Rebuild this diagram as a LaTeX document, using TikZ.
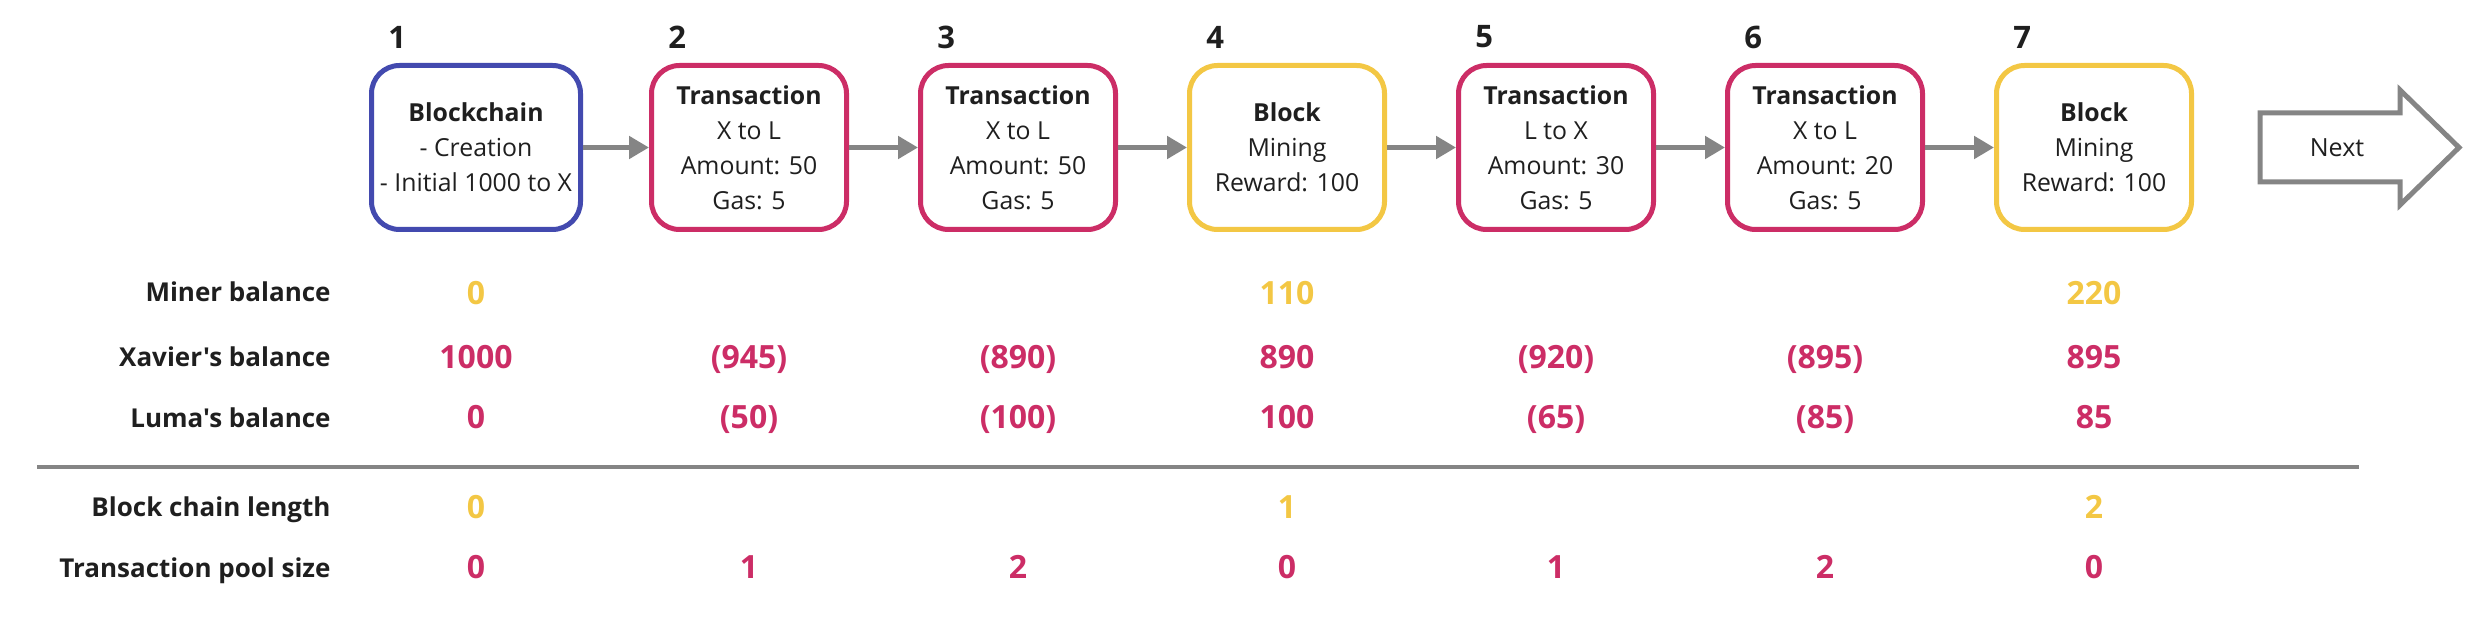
\documentclass[tikz,border=0pt]{standalone}
\usepackage{fontspec}
\setmainfont{Open Sans}[Ligatures=TeXOff]
\usetikzlibrary{arrows.meta}

\definecolor{chainblue}{HTML}{434AAF}
\definecolor{txpink}{HTML}{CC2D66}
\definecolor{blockyellow}{HTML}{F3C744}
\definecolor{linkgray}{HTML}{858585}
\definecolor{ink}{HTML}{1F1F1F}

\newcommand\boxfont{\fontsize{12.4}{17.5}\selectfont}
\newcommand\numfont{\fontsize{15.5}{18}\selectfont\bfseries}
\newcommand\labelfont{\fontsize{13}{15}\selectfont\bfseries}
\newcommand\valfont{\fontsize{16}{19}\selectfont\bfseries}

\tikzset{
  stage/.style={draw, rounded corners=14pt, line width=2.5pt, fill=white,
    minimum width=97.5pt, minimum height=82pt, inner sep=0pt,
    align=center, font=\boxfont, text=ink},
  chainstage/.style={stage, draw=chainblue, minimum width=104.5pt},
  txstage/.style={stage, draw=txpink},
  blockstage/.style={stage, draw=blockyellow},
  stepno/.style={font=\numfont, text=ink, anchor=west, inner sep=0pt},
  rowlabel/.style={font=\labelfont, text=ink, anchor=base east, inner sep=0pt},
  cellval/.style={font=\valfont, anchor=base, inner sep=0pt},
  link/.style={draw=linkgray, line width=2.5pt, -{Triangle[length=10pt,width=11pt]}}
}

\begin{document}
\begin{tikzpicture}[x=0.5pt,y=-0.5pt]

    \useasboundingbox (0,0) rectangle (2482,620);

    % Stages
    \node[chainstage] (b1) at (476,147.5)
        {\textbf{Blockchain}\\- Creation\\- Initial 1000 to X};
    \node[txstage] (b2) at (749,147.5)
        {\textbf{Transaction}\\X to L\\Amount: 50\\Gas: 5};
    \node[txstage] (b3) at (1018,147.5)
        {\textbf{Transaction}\\X to L\\Amount: 50\\Gas: 5};
    \node[blockstage] (b4) at (1287,147.5)
        {\textbf{Block}\\Mining\\Reward: 100};
    \node[txstage] (b5) at (1556,147.5)
        {\textbf{Transaction}\\L to X\\Amount: 30\\Gas: 5};
    \node[txstage] (b6) at (1825,147.5)
        {\textbf{Transaction}\\X to L\\Amount: 20\\Gas: 5};
    \node[blockstage] (b7) at (2094,147.5)
        {\textbf{Block}\\Mining\\Reward: 100};

    % Step numbers
    \foreach \i in {1,...,7}
        \node[stepno] (n\i) at ([xshift=9.5pt]b\i.west |- 0,37) {\i};

    % Links
    \foreach \i/\j in {1/2,2/3,3/4,4/5,5/6,6/7}
        \draw[link] (b\i) -- (b\j);

    % Next
    \node[font=\fontsize{12.5}{15}\selectfont, text=ink] (next) at (2337,147.5) {Next};
    \draw[linkgray, line width=2.5pt] (2260,113) -- (2400,113) -- (2400,90)
        -- (2459,147.5) -- (2400,205) -- (2400,182) -- (2260,182) -- cycle;

    % Row labels
    \node[rowlabel] (lminer) at (331,301) {Miner balance};
    \node[rowlabel] (lxavier) at (331,366) {Xavier's balance};
    \node[rowlabel] (lluma) at (331,427) {Luma's balance};
    \node[rowlabel] (lchain) at (331,516) {Block chain length};
    \node[rowlabel] (lpool) at (331,577) {Transaction pool size};

    % Separator
    \draw[linkgray, line width=2pt] (37,467) -- (2359,467);

    % Balances
    \foreach \i/\v in {1/0,4/110,7/220}
        \node[cellval, text=blockyellow] (m\i) at (b\i |- 0,304.5) {\v};
    \foreach \i/\v in {1/1000,2/(945),3/(890),4/890,5/(920),6/(895),7/895}
        \node[cellval, text=txpink] (x\i) at (b\i |- 0,368.5) {\v};
    \foreach \i/\v in {1/0,2/(50),3/(100),4/100,5/(65),6/(85),7/85}
        \node[cellval, text=txpink] (l\i) at (b\i |- 0,428) {\v};

    % Chain and pool
    \foreach \i/\v in {1/0,4/1,7/2}
        \node[cellval, text=blockyellow] (c\i) at (b\i |- 0,518.5) {\v};
    \foreach \i/\v in {1/0,2/1,3/2,4/0,5/1,6/2,7/0}
        \node[cellval, text=txpink] (p\i) at (b\i |- 0,578.5) {\v};

\end{tikzpicture}
\end{document}
